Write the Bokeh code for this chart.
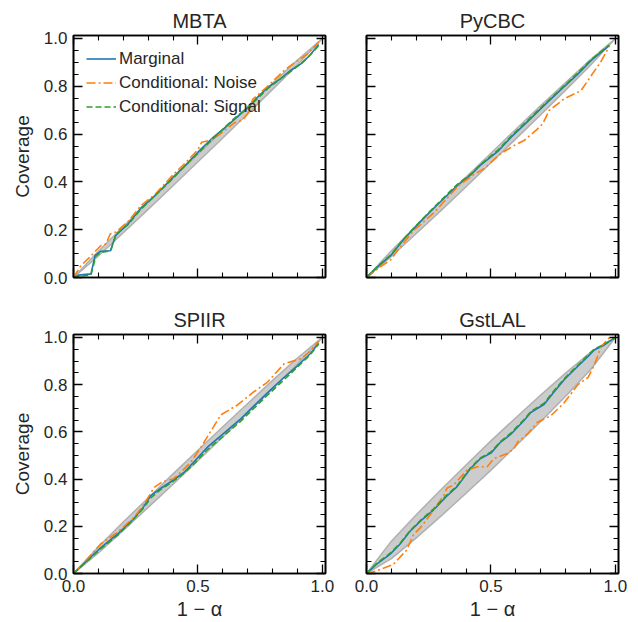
from bokeh.plotting import figure
from bokeh.layouts import column, row
from bokeh.models import Range1d, FixedTicker, LinearAxis, CustomJSTickFormatter, PrintfTickFormatter
from bokeh.embed import file_html
from bokeh.resources import INLINE

FONT = "Liberation Sans"

# ---------------- data ----------------
titles = ["MBTA", "PyCBC", "SPIIR", "GstLAL"]
series_labels = ["Marginal", "Conditional: Noise", "Conditional: Signal"]

x_ticks = [0.0, 0.5, 1.0]
x_minor = [0.1, 0.2, 0.3, 0.4, 0.6, 0.7, 0.8, 0.9]
y_ticks = [0.0, 0.2, 0.4, 0.6, 0.8, 1.0]
y_minor = [0.05, 0.1, 0.15, 0.25, 0.3, 0.35, 0.45, 0.5, 0.55, 0.65, 0.7, 0.75, 0.85, 0.9, 0.95]

band_x = [0.0, 0.1, 0.2, 0.3, 0.4, 0.5, 0.6, 0.7, 0.8, 0.9, 1.0]
band_hw_mbta = [0.0, 0.010, 0.013, 0.015, 0.016, 0.016, 0.016, 0.015, 0.013, 0.010, 0.0]
band_hw_pycbc = [0.0, 0.012, 0.016, 0.019, 0.020, 0.020, 0.020, 0.019, 0.016, 0.012, 0.0]
band_hw_spiir = [0.0, 0.013, 0.018, 0.020, 0.022, 0.022, 0.022, 0.020, 0.018, 0.013, 0.0]
band_hw_gstlal = [0.0, 0.037, 0.049, 0.056, 0.060, 0.062, 0.060, 0.056, 0.049, 0.037, 0.0]

# MBTA
mbta_marg_x = [0, 0.02, 0.07, 0.087, 0.11, 0.148, 0.17, 0.22, 0.27, 0.33, 0.40, 0.45, 0.51, 0.56, 0.60, 0.645, 0.70, 0.74, 0.78, 0.83, 0.87, 0.915, 0.95, 0.985]
mbta_marg_y = [0, 0.01, 0.015, 0.092, 0.11, 0.112, 0.176, 0.225, 0.29, 0.345, 0.42, 0.47, 0.535, 0.585, 0.62, 0.66, 0.71, 0.755, 0.795, 0.83, 0.865, 0.895, 0.93, 0.975]
mbta_noise_x = [0, 0.03, 0.07, 0.11, 0.13, 0.148, 0.17, 0.22, 0.27, 0.33, 0.40, 0.45, 0.50, 0.515, 0.545, 0.58, 0.645, 0.68, 0.70, 0.72, 0.78, 0.845, 0.89, 0.94, 0.985]
mbta_noise_y = [0, 0.05, 0.09, 0.134, 0.14, 0.183, 0.19, 0.235, 0.30, 0.35, 0.43, 0.48, 0.535, 0.566, 0.573, 0.594, 0.646, 0.66, 0.685, 0.745, 0.80, 0.865, 0.90, 0.935, 0.985]
mbta_sig_x = [0, 0.02, 0.07, 0.09, 0.11, 0.15, 0.17, 0.22, 0.27, 0.33, 0.40, 0.45, 0.51, 0.56, 0.60, 0.645, 0.70, 0.74, 0.78, 0.83, 0.87, 0.915, 0.95, 0.985]
mbta_sig_y = [0, 0.005, 0.01, 0.09, 0.105, 0.112, 0.18, 0.222, 0.285, 0.345, 0.415, 0.47, 0.53, 0.58, 0.62, 0.665, 0.71, 0.75, 0.79, 0.83, 0.86, 0.895, 0.93, 0.97]

# PyCBC
pycbc_marg_x = [0, 0.05, 0.10, 0.15, 0.22, 0.28, 0.365, 0.42, 0.458, 0.53, 0.58, 0.65, 0.714, 0.78, 0.848, 0.903, 0.975]
pycbc_marg_y = [0, 0.05, 0.095, 0.16, 0.238, 0.30, 0.385, 0.43, 0.470, 0.53, 0.586, 0.655, 0.72, 0.785, 0.85, 0.908, 0.97]
pycbc_noise_x = [0, 0.05, 0.098, 0.13, 0.19, 0.27, 0.37, 0.43, 0.472, 0.539, 0.593, 0.633, 0.685, 0.708, 0.734, 0.795, 0.862, 0.903, 0.940, 0.977]
pycbc_noise_y = [0, 0.04, 0.075, 0.12, 0.197, 0.27, 0.385, 0.43, 0.455, 0.518, 0.552, 0.573, 0.62, 0.643, 0.699, 0.748, 0.782, 0.845, 0.90, 0.97]
pycbc_sig_x = [0, 0.05, 0.10, 0.15, 0.22, 0.28, 0.365, 0.42, 0.458, 0.53, 0.58, 0.65, 0.714, 0.78, 0.848, 0.903, 0.975]
pycbc_sig_y = [0, 0.052, 0.097, 0.162, 0.24, 0.303, 0.39, 0.433, 0.472, 0.535, 0.59, 0.66, 0.724, 0.788, 0.855, 0.912, 0.972]

# SPIIR
spiir_marg_x = [0, 0.05, 0.11, 0.18, 0.24, 0.28, 0.31, 0.35, 0.40, 0.444, 0.49, 0.538, 0.60, 0.672, 0.72, 0.779, 0.84, 0.90, 0.95, 0.985]
spiir_marg_y = [0, 0.05, 0.11, 0.17, 0.23, 0.28, 0.33, 0.36, 0.395, 0.428, 0.48, 0.535, 0.59, 0.655, 0.705, 0.765, 0.825, 0.88, 0.93, 0.975]
spiir_noise_x = [0, 0.05, 0.11, 0.177, 0.244, 0.284, 0.324, 0.36, 0.40, 0.444, 0.47, 0.511, 0.55, 0.592, 0.659, 0.725, 0.779, 0.846, 0.913, 0.95, 0.985]
spiir_noise_y = [0, 0.055, 0.126, 0.175, 0.238, 0.294, 0.365, 0.39, 0.40, 0.442, 0.47, 0.533, 0.60, 0.672, 0.714, 0.77, 0.81, 0.888, 0.91, 0.94, 0.985]
spiir_sig_x = [0, 0.05, 0.11, 0.18, 0.24, 0.28, 0.31, 0.35, 0.40, 0.444, 0.49, 0.538, 0.60, 0.672, 0.72, 0.779, 0.84, 0.90, 0.95, 0.985]
spiir_sig_y = [0, 0.048, 0.105, 0.165, 0.228, 0.275, 0.32, 0.355, 0.39, 0.425, 0.47, 0.525, 0.58, 0.645, 0.695, 0.755, 0.815, 0.875, 0.925, 0.972]

# GstLAL
gst_marg_x = [0, 0.04, 0.094, 0.135, 0.175, 0.22, 0.27, 0.32, 0.364, 0.418, 0.458, 0.50, 0.539, 0.58, 0.633, 0.66, 0.714, 0.75, 0.795, 0.849, 0.89, 0.916, 0.95, 1.0]
gst_marg_y = [0, 0.039, 0.081, 0.125, 0.179, 0.225, 0.27, 0.325, 0.368, 0.445, 0.487, 0.51, 0.557, 0.59, 0.648, 0.682, 0.717, 0.765, 0.822, 0.878, 0.92, 0.948, 0.965, 1.0]
gst_noise_x = [0, 0.04, 0.108, 0.162, 0.189, 0.216, 0.256, 0.31, 0.323, 0.35, 0.404, 0.445, 0.485, 0.512, 0.566, 0.593, 0.607, 0.647, 0.687, 0.74, 0.795, 0.849, 0.89, 0.916, 0.943, 0.977, 1.0]
gst_noise_y = [0, 0.011, 0.039, 0.10, 0.165, 0.193, 0.249, 0.33, 0.361, 0.375, 0.438, 0.452, 0.452, 0.487, 0.508, 0.529, 0.557, 0.591, 0.641, 0.668, 0.724, 0.80, 0.83, 0.885, 0.962, 1.0, 1.0]
gst_sig_x = [0, 0.04, 0.094, 0.135, 0.175, 0.22, 0.27, 0.32, 0.364, 0.418, 0.458, 0.50, 0.539, 0.58, 0.633, 0.66, 0.714, 0.75, 0.795, 0.849, 0.89, 0.916, 0.95, 1.0]
gst_sig_y = [0, 0.042, 0.085, 0.128, 0.182, 0.228, 0.274, 0.33, 0.372, 0.448, 0.49, 0.515, 0.56, 0.595, 0.652, 0.686, 0.722, 0.77, 0.826, 0.882, 0.925, 0.952, 0.968, 1.0]

panels = [
    (titles[0], band_hw_mbta, (mbta_marg_x, mbta_marg_y), (mbta_noise_x, mbta_noise_y), (mbta_sig_x, mbta_sig_y)),
    (titles[1], band_hw_pycbc, (pycbc_marg_x, pycbc_marg_y), (pycbc_noise_x, pycbc_noise_y), (pycbc_sig_x, pycbc_sig_y)),
    (titles[2], band_hw_spiir, (spiir_marg_x, spiir_marg_y), (spiir_noise_x, spiir_noise_y), (spiir_sig_x, spiir_sig_y)),
    (titles[3], band_hw_gstlal, (gst_marg_x, gst_marg_y), (gst_noise_x, gst_noise_y), (gst_sig_x, gst_sig_y)),
]

COLORS = ["#1f77b4", "#ff7f0e", "#2ca02c"]
DASHES = ["solid", "9 3 2 3", "6 3"]
TEXT_COLOR = "#262626"


def style_axis(ax, ticks, minor, show_labels):
    ax.ticker = FixedTicker(ticks=ticks, minor_ticks=minor)
    ax.major_tick_in = 9
    ax.major_tick_out = 0
    ax.minor_tick_in = 5
    ax.minor_tick_out = 0
    ax.major_tick_line_width = 1.3
    ax.minor_tick_line_width = 1.1
    ax.major_tick_line_color = "black"
    ax.minor_tick_line_color = "black"
    ax.axis_line_width = 1.6
    ax.axis_line_color = "black"
    ax.major_label_text_font = FONT
    ax.major_label_text_font_size = "17px"
    ax.major_label_text_color = TEXT_COLOR
    ax.major_label_standoff = 6
    if show_labels:
        ax.formatter = PrintfTickFormatter(format="%.1f")
    else:
        ax.formatter = CustomJSTickFormatter(code="return ''")


def make_panel(idx, width, height, bl, br, bt, bb, show_x, show_y, legend):
    title, hw, marg, noise, sig = panels[idx]
    p = figure(width=width, height=height, x_range=Range1d(0, 1.0125), y_range=Range1d(0, 1.0125),
               output_backend="svg", toolbar_location=None, x_axis_type=None, y_axis_type=None,
               min_border_left=bl, min_border_right=br, min_border_top=bt, min_border_bottom=bb)
    p.title.text = title
    p.title.align = "center"
    p.title.text_font = FONT
    p.title.text_font_size = "20px"
    p.title.text_font_style = "normal"
    p.title.text_color = TEXT_COLOR
    p.title.standoff = 7
    p.outline_line_color = "black"
    p.outline_line_width = 1.6
    p.xgrid.visible = False
    p.ygrid.visible = False

    bottom = LinearAxis()
    style_axis(bottom, x_ticks, x_minor, show_x)
    if show_x:
        bottom.axis_label = "1 \u2212 \u03b1"
        bottom.axis_label_text_font = FONT
        bottom.axis_label_text_font_size = "20px"
        bottom.axis_label_text_font_style = "normal"
        bottom.axis_label_text_color = TEXT_COLOR
        bottom.axis_label_standoff = 3
    p.add_layout(bottom, "below")
    top = LinearAxis()
    style_axis(top, x_ticks, x_minor, False)
    p.add_layout(top, "above")

    left = LinearAxis()
    style_axis(left, y_ticks, y_minor, show_y)
    if show_y:
        left.axis_label = "Coverage"
        left.axis_label_text_font = FONT
        left.axis_label_text_font_size = "19px"
        left.axis_label_text_font_style = "normal"
        left.axis_label_text_color = TEXT_COLOR
        left.axis_label_standoff = 8
    p.add_layout(left, "left")
    right = LinearAxis()
    style_axis(right, y_ticks, y_minor, False)
    p.add_layout(right, "right")

    lo = [bx - h for bx, h in zip(band_x, hw)]
    hi = [bx + h for bx, h in zip(band_x, hw)]
    p.varea(x=band_x, y1=lo, y2=hi, fill_color="#cccccc", fill_alpha=1.0)
    p.line(band_x, lo, line_color="#b0b0b0", line_width=1.5)
    p.line(band_x, hi, line_color="#b0b0b0", line_width=1.5)

    for k, (sx, sy) in enumerate([marg, noise, sig]):
        kw = dict(line_color=COLORS[k], line_width=1.6, line_dash=DASHES[k])
        if legend:
            kw["legend_label"] = series_labels[k]
        p.line(sx, sy, **kw)

    if legend:
        lg = p.legend[0]
        lg.location = "top_left"
        lg.margin = 0
        lg.padding = 13
        lg.spacing = 3
        lg.glyph_width = 30
        lg.glyph_height = 21
        lg.label_height = 21
        lg.label_standoff = 3
        lg.label_text_font = FONT
        lg.label_text_font_size = "17px"
        lg.label_text_color = TEXT_COLOR
        lg.border_line_alpha = 0
        lg.background_fill_alpha = 0
    return p


p1 = make_panel(0, 340, 300, 73, 15, 35, 23, False, True, True)
p2 = make_panel(1, 298, 300, 26, 20, 35, 23, False, False, False)
p3 = make_panel(2, 340, 322, 73, 15, 34, 48, True, True, False)
p4 = make_panel(3, 298, 322, 26, 20, 34, 48, True, False, False)

layout = column(row(p1, p2), row(p3, p4))
open("out.html", "w").write(file_html(layout, INLINE))
